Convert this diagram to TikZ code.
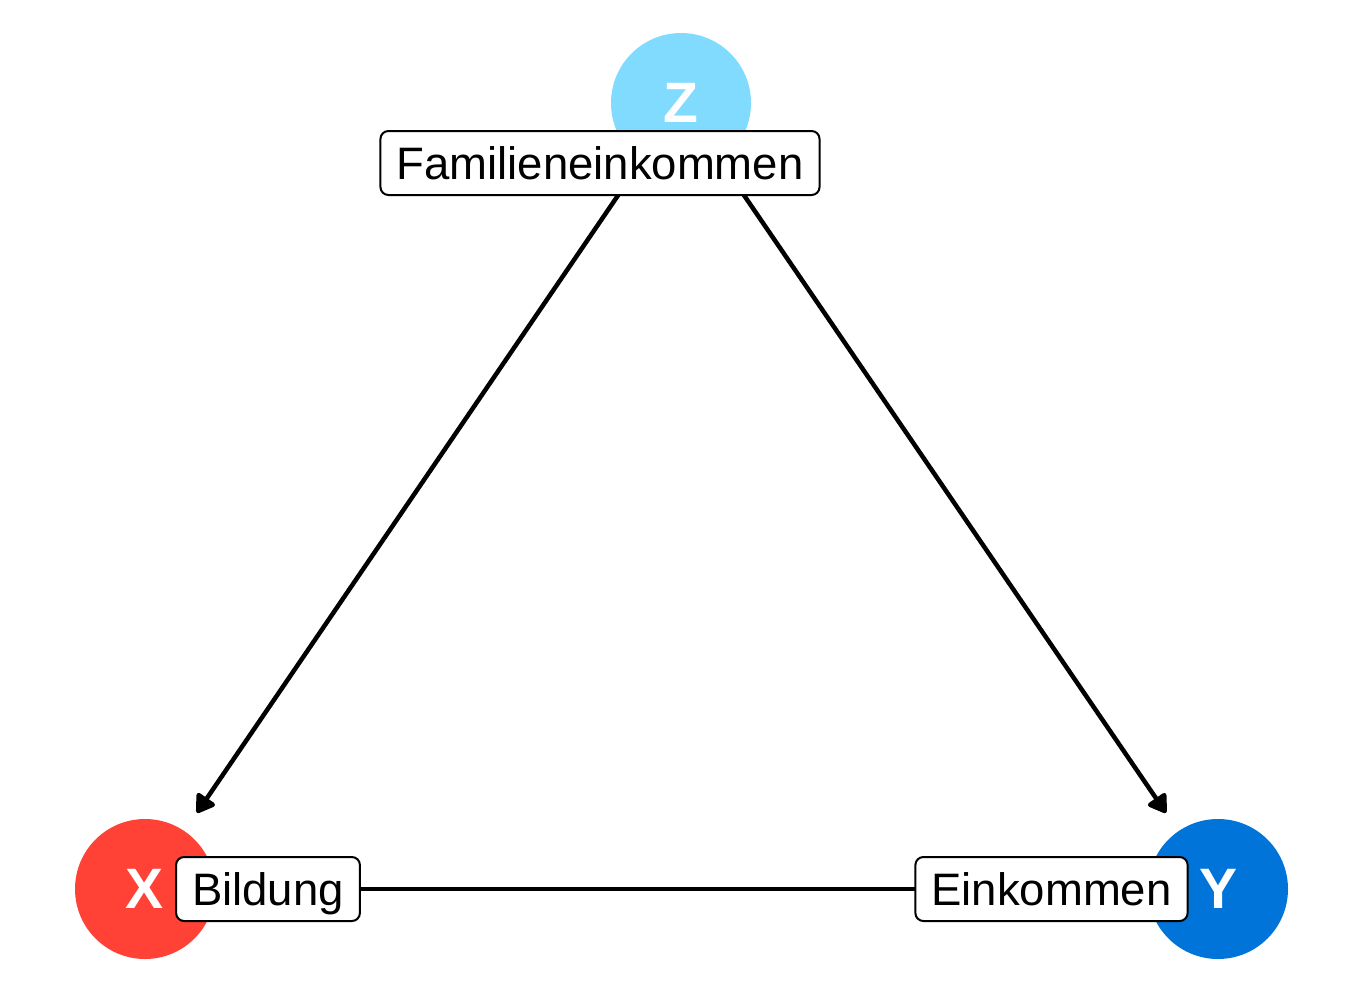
\documentclass[tikz,border=0pt]{standalone}
\usepackage{fontspec}
\setmainfont{Liberation Sans}
\usetikzlibrary{arrows.meta}
\definecolor{zcol}{HTML}{80DBFF}
\definecolor{xcol}{HTML}{FF4136}
\definecolor{ycol}{HTML}{0074D9}
\tikzset{
  varnode/.style={circle, minimum size=140pt, inner sep=0pt, text=white,
    font=\fontsize{57}{60}\selectfont\bfseries},
  labelbox/.style={draw=black, fill=white, line width=2pt, rounded corners=8pt,
    minimum height=64pt, inner xsep=16pt, inner ysep=0pt,
    text height=37pt, text depth=5pt,
    font=\fontsize{45.5}{50}\selectfont},
  edge/.style={line width=4.5pt, draw=black},
  arr/.style={edge, -{Triangle[length=20pt,width=24pt,round]}, shorten >=22pt, shorten <=22pt}
}
\begin{document}
\begin{tikzpicture}[x=1pt,y=-1pt]
\useasboundingbox (0,0) rectangle (1350,1005);
\node[varnode, fill=zcol] (z) at (681,103) {Z};
\node[varnode, fill=xcol] (x) at (145,889) {X};
\node[varnode, fill=ycol] (y) at (1218,889) {Y};
\draw[arr] (z) -- (x);
\draw[arr] (z) -- (y);
\draw[edge] (x) -- (y);
\node[labelbox] (lz) at (600,163) {Familieneinkommen};
\node[labelbox] (lx) at (268,889) {Bildung};
\node[labelbox] (ly) at (1051.5,889) {Einkommen};
\end{tikzpicture}
\end{document}
